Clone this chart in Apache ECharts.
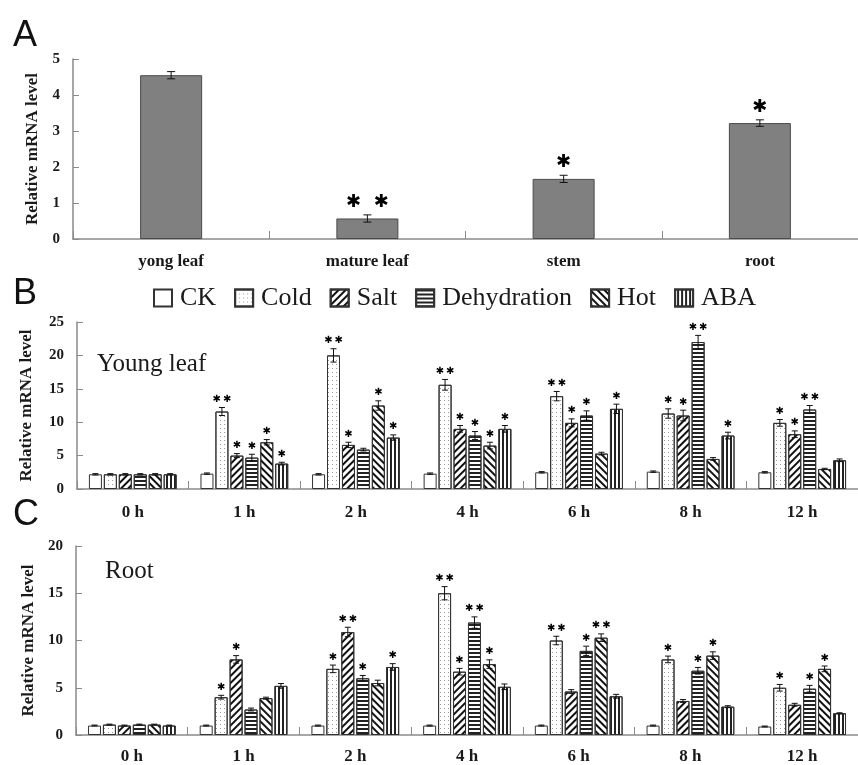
<!DOCTYPE html>
<html><head><meta charset="utf-8">
<script src="https://cdn.jsdelivr.net/npm/echarts@6/dist/echarts.min.js"></script>
<style>html,body{margin:0;padding:0;background:#fff}#c{width:858px;height:765px}</style>
</head><body><div id="c"></div>
<script>
// ---------- data ----------
const tissueCats = ['yong leaf', 'mature leaf', 'stem', 'root'];
const tissueVals = [4.55, 0.57, 1.67, 3.22];
const tissueErr  = [0.10, 0.10, 0.10, 0.09];
const tissueSig  = ['', '* *', '*', '*'];
const tissueTicks = [0, 1, 2, 3, 4, 5];

const timeCats = ['0 h', '1 h', '2 h', '4 h', '6 h', '8 h', '12 h'];
const treatments = ['CK', 'Cold', 'Salt', 'Dehydration', 'Hot', 'ABA'];

// young leaf (panel B), rows follow treatments
const leafValues = [
  [2.2, 2.3, 2.2, 2.3, 2.5, 2.6, 2.5],
  [2.2, 11.6, 20.0, 15.6, 13.9, 11.3, 9.9],
  [2.2, 5.0, 6.6, 9.0, 9.9, 11.0, 8.2],
  [2.2, 4.7, 5.9, 8.0, 11.0, 22.0, 11.9],
  [2.2, 7.0, 12.5, 6.5, 5.3, 4.5, 3.0],
  [2.2, 3.8, 7.7, 9.0, 12.0, 8.0, 4.3]
];
const leafErrors = [
  [0.1, 0.1, 0.1, 0.1, 0.1, 0.1, 0.1],
  [0.1, 0.6, 1.0, 0.8, 0.7, 0.7, 0.5],
  [0.1, 0.3, 0.4, 0.5, 0.6, 0.8, 0.5],
  [0.1, 0.5, 0.2, 0.6, 0.7, 1.0, 0.6],
  [0.1, 0.4, 0.7, 0.5, 0.2, 0.2, 0.1],
  [0.1, 0.2, 0.4, 0.5, 0.7, 0.5, 0.2]
];
const leafSig = [
  ['', '', '', '', '', '', ''],
  ['', '**', '**', '**', '**', '*', '*'],
  ['', '*', '*', '*', '*', '*', '*'],
  ['', '*', '', '*', '*', '**', '**'],
  ['', '*', '*', '*', '', '', ''],
  ['', '*', '*', '*', '*', '*', '']
];
const leafTicks = [0, 5, 10, 15, 20, 25];

// root (panel C)
const rootValues = [
  [1.0, 1.0, 1.0, 1.0, 1.0, 1.0, 0.9],
  [1.1, 4.0, 7.0, 15.0, 10.0, 8.0, 5.0],
  [1.0, 8.0, 10.9, 6.7, 4.6, 3.6, 3.2],
  [1.1, 2.7, 6.0, 11.9, 8.9, 6.8, 4.9],
  [1.1, 3.9, 5.5, 7.5, 10.3, 8.4, 7.0],
  [1.0, 5.2, 7.2, 5.1, 4.1, 3.0, 2.3]
];
const rootErrors = [
  [0.05, 0.05, 0.05, 0.05, 0.05, 0.05, 0.05],
  [0.05, 0.2, 0.4, 0.7, 0.45, 0.35, 0.35],
  [0.05, 0.4, 0.5, 0.35, 0.2, 0.15, 0.15],
  [0.05, 0.15, 0.3, 0.6, 0.5, 0.35, 0.35],
  [0.05, 0.1, 0.3, 0.45, 0.4, 0.4, 0.3],
  [0.05, 0.25, 0.35, 0.3, 0.2, 0.1, 0.05]
];
const rootSig = [
  ['', '', '', '', '', '', ''],
  ['', '*', '*', '**', '**', '*', '*'],
  ['', '*', '**', '*', '', '', ''],
  ['', '', '*', '**', '*', '*', '*'],
  ['', '', '', '*', '**', '*', '*'],
  ['', '', '*', '', '', '', '']
];
const rootTicks = [0, 5, 10, 15, 20];

// ---------- styles ----------
const SERIF = 'Liberation Serif, Times New Roman, serif';
const SANS = 'Liberation Sans, Arial, sans-serif';
const STAR_FONT = 'DejaVu Sans';
const AXIS_COLOR = '#8a8a8a';
const TEXT_COLOR = '#1a1a1a';
const BAR_W = 13, GAP_RATIO = 0.15;

const decals = [
  null,
  { symbol: 'rect', symbolSize: 1, dashArrayX: [1, 3], dashArrayY: [1, 3], color: '#9a9a9a' },
  { symbol: 'rect', symbolSize: 1, dashArrayX: [1, 0], dashArrayY: [1.6, 2.2], rotation: -Math.PI / 4, color: '#111' },
  { symbol: 'rect', symbolSize: 1, dashArrayX: [1, 0], dashArrayY: [1.3, 1.7], rotation: 0, color: '#222' },
  { symbol: 'rect', symbolSize: 1, dashArrayX: [1, 0], dashArrayY: [1.6, 2.4], rotation: Math.PI / 4, color: '#111' },
  { symbol: 'rect', symbolSize: 1, dashArrayX: [1, 0], dashArrayY: [1.3, 1.7], rotation: Math.PI / 2, color: '#222' }
];

function xAxisCfg(idx, cats, margin) {
  return {
    type: 'category', gridIndex: idx, data: cats,
    axisLine: { lineStyle: { color: AXIS_COLOR, width: 1.5 } },
    axisTick: { show: true, inside: true, length: 8, lineStyle: { color: AXIS_COLOR } },
    axisLabel: { color: TEXT_COLOR, fontFamily: SERIF, fontWeight: 'bold', fontSize: 17, margin: margin }
  };
}
function yAxisCfg(idx, ticks, gap) {
  return {
    type: 'value', gridIndex: idx, min: ticks[0], max: ticks[ticks.length - 1],
    interval: ticks[1] - ticks[0],
    name: 'Relative mRNA level', nameLocation: 'middle', nameGap: gap, nameRotate: 90,
    nameTextStyle: { color: TEXT_COLOR, fontFamily: SERIF, fontWeight: 'bold', fontSize: 17 },
    axisLine: { show: true, lineStyle: { color: AXIS_COLOR, width: 1.5 } },
    axisTick: { show: true, inside: true, length: 6, lineStyle: { color: AXIS_COLOR } },
    axisLabel: { color: TEXT_COLOR, fontFamily: SERIF, fontWeight: 'bold', fontSize: 15, margin: 13 },
    splitLine: { show: false }
  };
}

function starText(sig, spacer) {
  return sig.replace(/\*/g, '\u2731').replace(/(\u2731)(?=\u2731)/g, '$1' + spacer).replace(/ /g, '  ');
}

function errSeries(axisIdx, rows, errs, sigs, nSeries, pitch, cap, starSize, starOff, spacer) {
  const data = [];
  rows.forEach((row, s) => row.forEach((v, c) => data.push([c, v, errs[s][c], s])));
  const sigFlat = [];
  sigs.forEach(row => row.forEach(t => sigFlat.push(t)));
  return {
    type: 'custom', xAxisIndex: axisIdx, yAxisIndex: axisIdx, z: 10, silent: true,
    encode: { x: 0, y: 1 },
    data: data,
    renderItem: function (params, api) {
      const c = api.value(0), v = api.value(1), e = api.value(2), s = api.value(3);
      const base = api.coord([c, v]);
      const x = base[0] + (s - (nSeries - 1) / 2) * pitch;
      const yT = api.coord([c, v + e])[1];
      const yB = api.coord([c, v - e])[1];
      const ls = { stroke: '#111', lineWidth: 1 };
      const children = [
        { type: 'line', shape: { x1: x, y1: yT, x2: x, y2: yB }, style: ls },
        { type: 'line', shape: { x1: x - cap, y1: yT, x2: x + cap, y2: yT }, style: ls },
        { type: 'line', shape: { x1: x - cap, y1: yB, x2: x + cap, y2: yB }, style: ls }
      ];
      const sig = sigFlat[params.dataIndex];
      if (sig) {
        children.push({
          type: 'text',
          style: {
            text: starText(sig, spacer), x: x, y: yT - starOff,
            align: 'center', verticalAlign: 'middle',
            fill: '#000', fontFamily: STAR_FONT, fontWeight: 'bold', fontSize: starSize
          }
        });
      }
      return { type: 'group', children: children };
    }
  };
}

function groupBars(axisIdx, rows) {
  return rows.map((row, s) => ({
    type: 'bar', name: treatments[s], xAxisIndex: axisIdx, yAxisIndex: axisIdx,
    data: row, barWidth: BAR_W, barGap: (GAP_RATIO * 100) + '%',
    itemStyle: Object.assign({ color: '#fff', borderColor: '#333', borderWidth: 1 },
      decals[s] ? { decal: decals[s] } : {}),
    emphasis: { disabled: true }, silent: true
  }));
}

const pitch = BAR_W * (1 + GAP_RATIO);

const option = {
  animation: false,
  backgroundColor: '#fff',
  grid: [
    { left: 73, right: -8, top: 59, height: 180 },
    { left: 77, right: -5, top: 322, height: 167 },
    { left: 76, right: -6, top: 546, height: 192 }
  ],
  xAxis: [
    xAxisCfg(0, tissueCats, 14),
    xAxisCfg(1, timeCats, 15),
    xAxisCfg(2, timeCats, 13)
  ],
  yAxis: [
    yAxisCfg(0, tissueTicks, 27),
    yAxisCfg(1, leafTicks, 42),
    yAxisCfg(2, rootTicks, 39)
  ],
  legend: {
    data: treatments, left: 153, top: 285, itemWidth: 18, itemHeight: 17, itemGap: 18,
    icon: 'rect',
    selectedMode: false, padding: 0,
    textStyle: { fontFamily: SERIF, fontSize: 26, color: TEXT_COLOR, lineHeight: 26, padding: [0, 0, 0, 3] }
  },
  graphic: [
    { type: 'text', left: 13, top: 18, style: { text: 'A', font: '36px ' + SANS, fill: '#111' } },
    { type: 'text', left: 13, top: 276, style: { text: 'B', font: '36px ' + SANS, fill: '#111' } },
    { type: 'text', left: 13, top: 497, style: { text: 'C', font: '36px ' + SANS, fill: '#111' } },
    { type: 'text', left: 97, top: 352, style: { text: 'Young leaf', font: '25px ' + SERIF, fill: TEXT_COLOR } },
    { type: 'text', left: 105, top: 559, style: { text: 'Root', font: '25px ' + SERIF, fill: TEXT_COLOR } }
  ],
  series: [
    {
      type: 'bar', xAxisIndex: 0, yAxisIndex: 0, data: tissueVals, barWidth: 62,
      itemStyle: { color: '#808080', borderColor: '#4a4a4a', borderWidth: 1 }, silent: true
    },
    errSeries(0, [tissueVals], [tissueErr], [tissueSig], 1, 0, 4, 18, 13, ''),
    ...groupBars(1, leafValues),
    errSeries(1, leafValues, leafErrors, leafSig, 6, pitch, 3, 10, 8, '\u2009'),
    ...groupBars(2, rootValues),
    errSeries(2, rootValues, rootErrors, rootSig, 6, pitch, 3, 10, 8, '\u2009')
  ]
};

const chart = echarts.init(document.getElementById('c'), null, { renderer: 'canvas' });
chart.setOption(option);
</script>
</body></html>
